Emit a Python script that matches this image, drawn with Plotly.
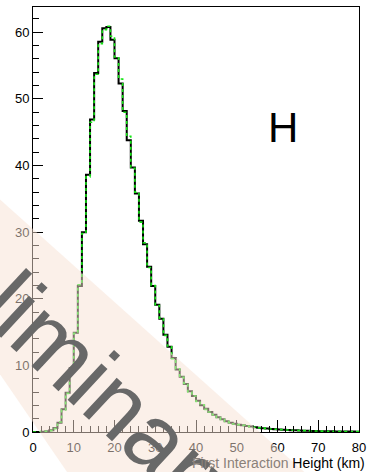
import plotly.graph_objects as go

# First interaction height histograms, 1 km bins from 0 to 80 km
bin_edges = list(range(0, 81))

counts_black = [
    0.0, 0.0, 0.05, 0.1, 0.25, 0.6, 1.4, 3.4, 5.9, 9.6,
    14.9, 21.9, 30.0, 38.6, 46.9, 53.9, 58.6, 60.6, 60.8, 58.9,
    56.1, 52.3, 48.2, 43.8, 39.7, 35.8, 31.7, 28.2, 24.8, 21.9,
    19.1, 17.0, 14.6, 12.8, 11.1, 9.4, 8.3, 7.2, 6.1, 5.4,
    4.7, 4.0, 3.5, 3.0, 2.6, 2.2, 1.9, 1.6, 1.4, 1.25,
    1.1, 1.0, 0.9, 0.82, 0.72, 0.65, 0.58, 0.52, 0.46, 0.41,
    0.37, 0.33, 0.3, 0.27, 0.25, 0.22, 0.2, 0.18, 0.16, 0.15,
    0.13, 0.12, 0.11, 0.1, 0.09, 0.08, 0.07, 0.07, 0.06, 0.05,
]

counts_green = [
    0.0, 0.0, 0.05, 0.1, 0.2, 0.5, 1.5, 3.3, 5.8, 9.7,
    14.8, 22.1, 29.8, 38.3, 46.5, 53.7, 58.3, 60.4, 60.9, 59.4,
    56.3, 53.0, 48.0, 44.4, 39.6, 36.0, 31.5, 28.4, 24.7, 22.0,
    19.0, 17.1, 14.5, 12.9, 11.0, 9.5, 8.2, 7.3, 6.0, 5.4,
    4.6, 4.1, 3.4, 3.0, 2.6, 2.2, 1.9, 1.6, 1.4, 1.2,
    1.1, 1.0, 0.9, 0.8, 0.73, 0.64, 0.58, 0.51, 0.46, 0.42,
    0.36, 0.33, 0.3, 0.27, 0.24, 0.22, 0.2, 0.18, 0.16, 0.15,
    0.13, 0.12, 0.11, 0.1, 0.09, 0.08, 0.07, 0.06, 0.06, 0.05,
]

x_tick_values = [0, 10, 20, 30, 40, 50, 60, 70, 80]
y_tick_values = [0, 10, 20, 30, 40, 50, 60]

# page geometry (px) of the plotting frame
W, H = 368, 472
L, R, T, B = 33, 2, 7, 39.5
plot_w = W - L - R
plot_h = H - T - B


def to_paper(px, py):
    return (px - L) / plot_w, (H - B - py) / plot_h


def step_xy(counts):
    return bin_edges, counts + [counts[-1]]


fig = go.Figure()

xb, yb = step_xy(counts_black)
fig.add_trace(go.Scatter(
    x=xb, y=yb, mode="lines", line=dict(shape="hv", color="black", width=2),
    showlegend=False, hoverinfo="skip",
))
xg, yg = step_xy(counts_green)
fig.add_trace(go.Scatter(
    x=xg, y=yg, mode="lines",
    line=dict(shape="hv", color="#14e614", width=1.6, dash="3px,3px"),
    showlegend=False, hoverinfo="skip",
))

# translucent diagonal band behind the watermark word
band_px = [(-6, 195), (330, 490), (80, 490), (-6, 367)]
band_pts = [to_paper(px, py) for px, py in band_px]
band_path = "M " + " L ".join(f"{x:.4f},{y:.4f}" for x, y in band_pts) + " Z"
fig.add_shape(
    type="path", path=band_path, xref="paper", yref="paper",
    fillcolor="rgba(247,226,211,0.5)", line=dict(width=0), layer="above",
)

font_family = "Liberation Sans, Arial, Helvetica, sans-serif"

wx, wy = to_paper(63, 351)
fig.add_annotation(
    text="Preliminary", x=wx, y=wy, xref="paper", yref="paper",
    xanchor="center", yanchor="middle", showarrow=False, textangle=43,
    font=dict(family=font_family, size=94, color="#686868"),
)

hx, hy = to_paper(288, 128)
fig.add_annotation(
    text="H", x=hx, y=hy, xref="paper", yref="paper",
    xanchor="center", yanchor="middle", showarrow=False,
    font=dict(family=font_family, size=42, color="black"),
)

tx, ty = to_paper(374, 464)
fig.add_annotation(
    text="<span style='color:#8a8079'>First Interaction</span> Height (km)",
    x=tx, y=ty, xref="paper", yref="paper",
    xanchor="right", yanchor="middle", showarrow=False,
    font=dict(family=font_family, size=14, color="black"),
)

fig.update_xaxes(
    range=[0, 80], tickvals=x_tick_values, ticks="inside", ticklen=12,
    tickwidth=1, tickcolor="black", showline=True, linecolor="black",
    linewidth=1, mirror=True, showgrid=False, zeroline=False,
    ticklabeloverflow="allow", ticklabelstandoff=3,
    tickfont=dict(family=font_family, size=13, color="black"),
    minor=dict(dtick=2, ticks="inside", ticklen=6, tickcolor="black"),
)
fig.update_yaxes(
    range=[0, 63.8], tickvals=y_tick_values, ticks="inside", ticklen=10,
    tickwidth=1, tickcolor="black", showline=True, linecolor="black",
    linewidth=1, mirror=True, showgrid=False, zeroline=False,
    tickfont=dict(family=font_family, size=13, color="black"),
    minor=dict(dtick=2, ticks="inside", ticklen=6, tickcolor="black"),
)

fig.update_layout(
    width=W, height=H,
    margin=dict(l=L, r=R, t=T, b=B, pad=0),
    plot_bgcolor="white", paper_bgcolor="white",
)

fig.write_html("out.html")
